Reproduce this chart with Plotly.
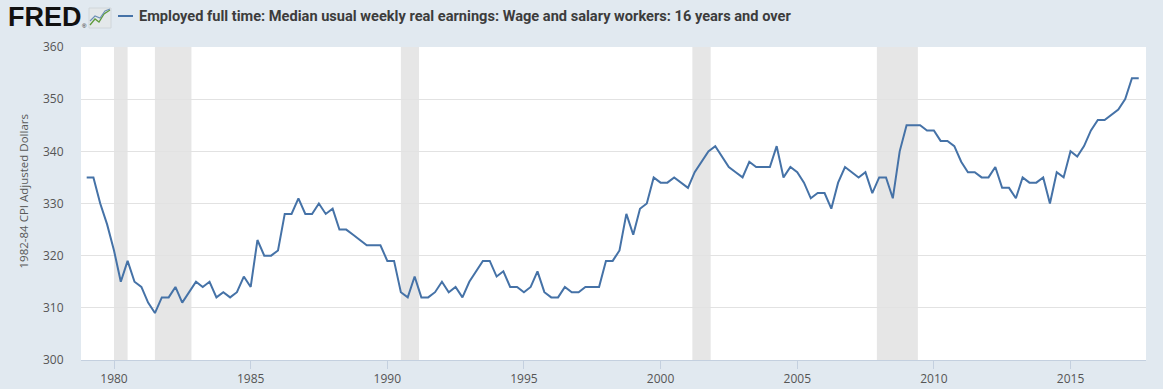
import pandas as pd
import plotly.graph_objects as go

# Quarterly observations, 1979Q1 .. 2017Q3
start_quarter = "1979-01-01"
earnings = [
    335, 335, 330, 326,   # 1979
    321, 315, 319, 315,   # 1980
    314, 311, 309, 312,   # 1981
    312, 314, 311, 313,   # 1982
    315, 314, 315, 312,   # 1983
    313, 312, 313, 316,   # 1984
    314, 323, 320, 320,   # 1985
    321, 328, 328, 331,   # 1986
    328, 328, 330, 328,   # 1987
    329, 325, 325, 324,   # 1988
    323, 322, 322, 322,   # 1989
    319, 319, 313, 312,   # 1990
    316, 312, 312, 313,   # 1991
    315, 313, 314, 312,   # 1992
    315, 317, 319, 319,   # 1993
    316, 317, 314, 314,   # 1994
    313, 314, 317, 313,   # 1995
    312, 312, 314, 313,   # 1996
    313, 314, 314, 314,   # 1997
    319, 319, 321, 328,   # 1998
    324, 329, 330, 335,   # 1999
    334, 334, 335, 334,   # 2000
    333, 336, 338, 340,   # 2001
    341, 339, 337, 336,   # 2002
    335, 338, 337, 337,   # 2003
    337, 341, 335, 337,   # 2004
    336, 334, 331, 332,   # 2005
    332, 329, 334, 337,   # 2006
    336, 335, 336, 332,   # 2007
    335, 335, 331, 340,   # 2008
    345, 345, 345, 344,   # 2009
    344, 342, 342, 341,   # 2010
    338, 336, 336, 335,   # 2011
    335, 337, 333, 333,   # 2012
    331, 335, 334, 334,   # 2013
    335, 330, 336, 335,   # 2014
    340, 339, 341, 344,   # 2015
    346, 346, 347, 348,   # 2016
    350, 354, 354,        # 2017
]
dates = pd.date_range(start=start_quarter, periods=len(earnings), freq="QS")

recession_starts = ["1980-01-01", "1981-07-01", "1990-07-01", "2001-03-01", "2007-12-01"]
recession_ends = ["1980-07-01", "1982-11-01", "1991-03-01", "2001-11-01", "2009-06-01"]

series_name = "Employed full time: Median usual weekly real earnings: Wage and salary workers: 16 years and over"
y_title = "1982-84 CPI Adjusted Dollars"
tick_years = list(range(1980, 2016, 5))

W, H = 1163, 389
L, R, T, B = 81, 17, 47, 29
PW, PH = W - L - R, H - T - B


def px(x):
    return (x - L) / PW


def py(y):
    return (H - B - y) / PH


fig = go.Figure()
fig.add_trace(go.Scatter(
    x=dates, y=earnings, mode="lines",
    line=dict(color="#4572a7", width=2),
    name=series_name, showlegend=False,
    hovertemplate="%{x|%Y-%m-%d}: %{y}<extra></extra>",
))

shapes = []
for s, e in zip(recession_starts, recession_ends):
    shapes.append(dict(type="rect", xref="x", yref="paper", x0=s, x1=e, y0=0, y1=1,
                       fillcolor="#e6e6e6", line=dict(width=0), layer="between"))

# legend swatch
shapes.append(dict(type="line", xref="paper", yref="paper",
                   x0=px(118), x1=px(133), y0=py(16), y1=py(16),
                   line=dict(color="#4572a7", width=2)))
# small FRED chart icon
shapes.append(dict(type="rect", xref="paper", yref="paper",
                   x0=px(89), x1=px(111), y0=py(28), y1=py(8),
                   fillcolor="#e4e8ea", line=dict(color="#d0d6da", width=1)))
shapes.append(dict(type="path", xref="paper", yref="paper",
                   path=f"M {px(90)} {py(25)} L {px(95)} {py(19)} L {px(99)} {py(22)} L {px(104)} {py(14)} L {px(110)} {py(10)}",
                   line=dict(color="#5f9b3c", width=1.3)))
shapes.append(dict(type="path", xref="paper", yref="paper",
                   path=f"M {px(90)} {py(21)} L {px(95)} {py(16)} L {px(100)} {py(18)} L {px(105)} {py(11)} L {px(110)} {py(9)}",
                   line=dict(color="#6c8fb5", width=1.1)))

annotations = [
    dict(text="<b>FRED</b>", xref="paper", yref="paper", x=px(6), y=py(17),
         xanchor="left", yanchor="middle", showarrow=False,
         font=dict(family="Liberation Sans Narrow, Liberation Sans, Arial", size=27, color="#111111")),
    dict(text="®", xref="paper", yref="paper", x=px(80), y=py(26),
         xanchor="left", yanchor="middle", showarrow=False,
         font=dict(family="Liberation Sans, Arial", size=6, color="#111111")),
    dict(text="<b>" + series_name + "</b>", xref="paper", yref="paper", x=px(137), y=py(16),
         xanchor="left", yanchor="middle", showarrow=False,
         font=dict(family="Liberation Sans Narrow, Arial Narrow, Roboto, sans-serif", size=14.6, color="#3c3c3c")),
    dict(text=y_title, xref="paper", yref="paper", x=px(22.5), y=py(192),
         xanchor="center", yanchor="middle", textangle=-90, showarrow=False,
         font=dict(family="Open Sans, sans-serif", size=11.5, color="#595959")),
]

fig.update_layout(
    width=W, height=H, autosize=False,
    margin=dict(l=L, r=R, t=T, b=B, pad=0, autoexpand=False),
    paper_bgcolor="#e1e9f0", plot_bgcolor="#ffffff",
    shapes=shapes, annotations=annotations,
    showlegend=False,
    font=dict(family="Open Sans, sans-serif", size=12, color="#555555"),
    xaxis=dict(
        type="date", range=["1978-10-17", "2017-10-06"],
        tickvals=[f"{y}-01-01" for y in tick_years],
        ticktext=[str(y) for y in tick_years],
        showgrid=False, zeroline=False, automargin=False,
        showline=True, linecolor="#c4d0df", linewidth=1,
        ticks="outside", ticklen=8, tickcolor="#c4d0df",
        tickfont=dict(size=12, color="#555555"),
    ),
    yaxis=dict(
        range=[300, 360], dtick=10, tick0=300, automargin=False,
        showgrid=True, gridcolor="#e2e2e2", gridwidth=1,
        zeroline=False, showline=False,
        ticks="outside", ticklen=14, tickcolor="rgba(0,0,0,0)",
        tickfont=dict(size=12, color="#555555"),
    ),
)

fig.write_html(
    "out.html",
    config={"responsive": False, "displayModeBar": False},
    post_script="document.body.style.margin='0';document.body.style.padding='0';document.body.style.overflow='hidden';",
)
